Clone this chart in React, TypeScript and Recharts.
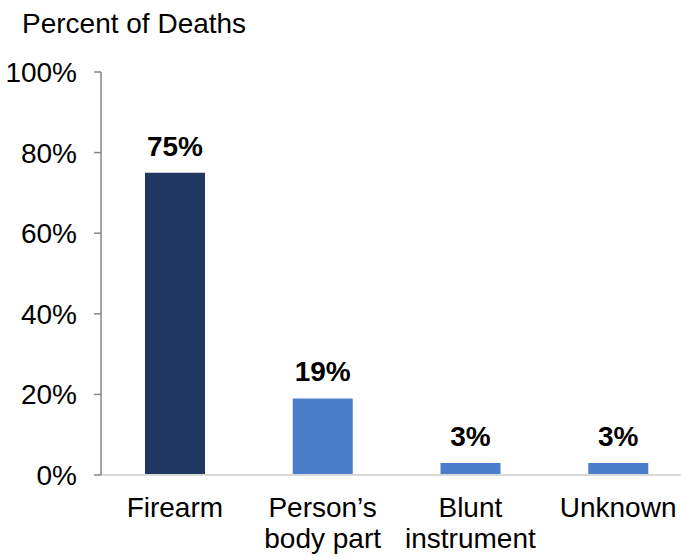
import React from "react";
import { BarChart, Bar, XAxis, YAxis, Cell, LabelList } from "recharts";

const categories = ["Firearm", "Person\u2019s\nbody part", "Blunt\ninstrument", "Unknown"];
const percents = [75, 19, 3, 3];
const barColors = ["#1f3761", "#4a7ecb", "#4a7ecb", "#4a7ecb"];
const yTicks = [0, 20, 40, 60, 80, 100];

const data = categories.map((name, i) => ({ name, value: percents[i] }));

const font = "'Liberation Sans', Arial, sans-serif";

function CategoryTick(props: any) {
  const { x, y, payload } = props;
  const lines = String(payload.value).split("\n");
  return (
    <text x={x} y={y} textAnchor="middle" fill="#000" fontSize={28} fontFamily={font}>
      {lines.map((l, i) => (
        <tspan key={i} x={x} dy={i === 0 ? 34 : 31}>
          {l}
        </tspan>
      ))}
    </text>
  );
}

export default function App() {
  return (
    <div style={{ position: "absolute", left: 0, top: 0, width: 681, height: 557, overflow: "hidden", background: "#fff" }}>
      <div style={{ position: "absolute", left: 22, top: 10, lineHeight: "28px", fontFamily: font, fontSize: 28, color: "#000" }}>
        Percent of Deaths
      </div>
      <BarChart
        width={700}
        height={557}
        data={data}
        margin={{ top: 72, right: 8, bottom: 0, left: 0 }}
        barSize={60}
      >
        <XAxis
          dataKey="name"
          height={82}
          axisLine={{ stroke: "#d9d9d9", strokeWidth: 2 }}
          tickLine={false}
          interval={0}
          tick={<CategoryTick />}
        />
        <YAxis
          width={101}
          domain={[0, 100]}
          ticks={yTicks}
          tickFormatter={(v: number) => `${v}%`}
          axisLine={{ stroke: "#868686", strokeWidth: 1.5 }}
          tickLine={{ stroke: "#868686", strokeWidth: 1.5 }}
          tickSize={7}
          tickMargin={17}
          tick={{ fill: "#000", fontSize: 28, fontFamily: font }}
        />
        <Bar dataKey="value" isAnimationActive={false}>
          {data.map((d, i) => (
            <Cell key={d.name} fill={barColors[i]} />
          ))}
          <LabelList
            dataKey="value"
            position="top"
            offset={17}
            formatter={(v: any) => `${v}%`}
            style={{ fill: "#000", fontSize: 28, fontWeight: "bold", fontFamily: font }}
          />
        </Bar>
      </BarChart>
    </div>
  );
}
